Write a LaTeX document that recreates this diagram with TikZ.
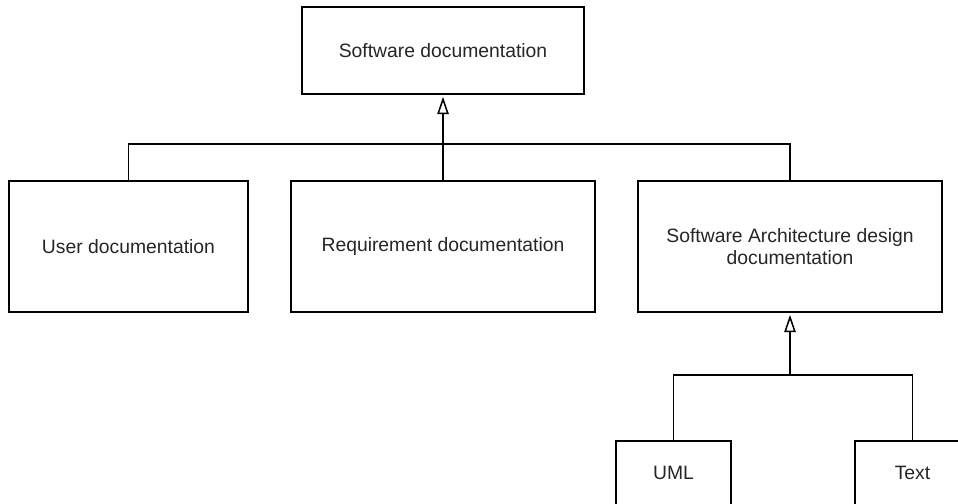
\documentclass[tikz,border=0pt]{standalone}
\usepackage{fontspec}
\setmainfont{Liberation Sans}
\usetikzlibrary{arrows.meta}

\tikzset{
  box/.style={draw=black, line width=1.15pt, fill=white, rectangle,
    inner sep=0pt, align=center,
    font=\fontsize{14.5}{16.5}\selectfont, text=black!85},
  link/.style={draw=black, line width=1.15pt},
  inherit/.style={link, -{Triangle[open, length=13pt, width=8.5pt, line width=1.15pt]},
    shorten >=1.5pt},
}

\begin{document}
\begin{tikzpicture}[x=0.75pt, y=-0.75pt]
  \useasboundingbox (0,0) rectangle (958,504);
  \clip (0,0) rectangle (958,504);

  % root
  \node[box, minimum width=282*0.75pt, minimum height=87*0.75pt]
    (root) at (443,50.5) {Software documentation};

  % second level
  \node[box, minimum width=239*0.75pt, minimum height=131*0.75pt]
    (user) at (128.5,246.5) {User documentation};
  \node[box, minimum width=304*0.75pt, minimum height=131*0.75pt]
    (req) at (443,246.5) {Requirement documentation};
  \node[box, minimum width=304*0.75pt, minimum height=131*0.75pt]
    (arch) at (790,246.5) {Software Architecture design\\documentation};

  % third level
  \node[box, minimum width=115*0.75pt, minimum height=64*0.75pt]
    (uml) at (673.5,473) {UML};
  \node[box, minimum width=115*0.75pt, minimum height=64*0.75pt]
    (txt) at (912.5,473) {Text};

  % generalisation: second level -> root
  \draw[link] (user.north) -- ++(0,-36) -| (arch.north);
  \draw[inherit] (req.north) -- (root.south);

  % generalisation: third level -> architecture documentation
  \draw[link] (uml.north) -- ++(0,-65) -| (txt.north);
  \coordinate (bus) at (arch.south |- 0,376);
  \draw[inherit] (bus) -- (arch.south);
\end{tikzpicture}
\end{document}
